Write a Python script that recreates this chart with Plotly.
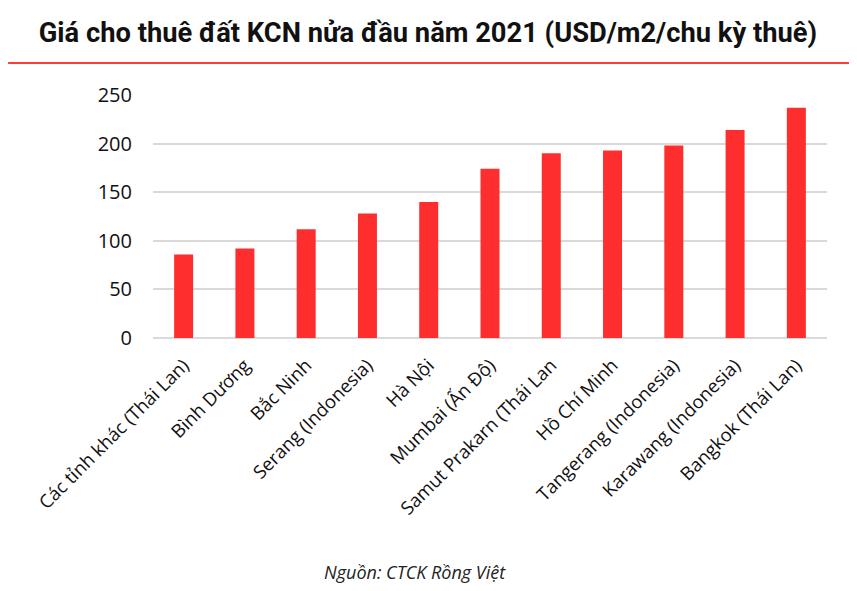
import plotly.graph_objects as go

# Giá cho thuê đất KCN nửa đầu năm 2021
locations = [
    'Các tỉnh khác (Thái Lan)', 'Bình Dương', 'Bắc Ninh', 'Serang (Indonesia)',
    'Hà Nội', 'Mumbai (Ấn Độ)', 'Samut Prakarn (Thái Lan', 'Hồ Chí Minh',
    'Tangerang (Indonesia)', 'Karawang (Indonesia)', 'Bangkok (Thái Lan)',
]
prices = [86, 92, 112, 128, 140, 174, 190, 193, 198, 214, 237]
y_ticks = [0, 50, 100, 150, 200, 250]

bar_color = '#FF2E2E'
font_main = 'Open Sans, Noto Sans, DejaVu Sans, sans-serif'

fig = go.Figure()
fig.add_trace(go.Bar(x=locations, y=prices, marker=dict(color=bar_color, line=dict(width=0)),
                     hoverinfo='x+y'))

fig.update_layout(
    width=857, height=591,
    margin=dict(l=145, r=38, t=87, b=261),
    paper_bgcolor='white', plot_bgcolor='white',
    bargap=0.69,
    showlegend=False,
    title=dict(text='<b>Giá cho thuê đất KCN nửa đầu năm 2021 (USD/m2/chu kỳ thuê)</b>',
               x=0.49, xref='container', xanchor='center', y=0.958, yanchor='middle',
               font=dict(family='Roboto, sans-serif', size=27.3, color='#111111')),
    xaxis=dict(tickangle=-45, tickfont=dict(family=font_main, size=18.5, color='#111111'),
               showgrid=False, showline=False, ticks='', ticklabelstandoff=12),
    yaxis=dict(range=[0, 250], tickvals=y_ticks, showgrid=True, gridcolor='#D9D9D9', gridwidth=1.5,
               zeroline=True, zerolinecolor='#D9D9D9', zerolinewidth=1.5,
               tickfont=dict(family=font_main, size=20, color='#111111'),
               ticklabelstandoff=20, showline=False),
)

# red rule under the title
fig.add_shape(type='line', xref='paper', yref='paper', x0=-0.215, x1=1.034, y0=1.1317, y1=1.1317,
              line=dict(color='#FF3B3B', width=2))

fig.add_annotation(text='<i>Nguồn: CTCK Rồng Việt</i>', xref='paper', yref='paper',
                   x=0.389, y=-0.963, xanchor='center', yanchor='middle', showarrow=False,
                   font=dict(family=font_main, size=18, color='#222222'))

fig.write_html('out.html')
